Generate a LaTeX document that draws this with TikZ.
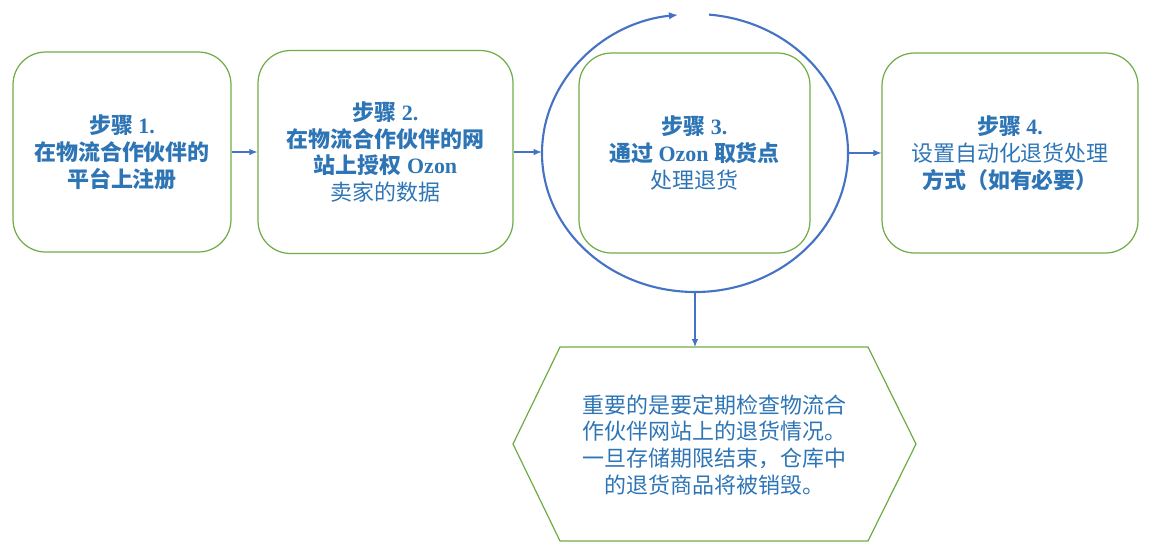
\documentclass[tikz,border=0pt]{standalone}
\usepackage{fontspec}
\setmainfont{Liberation Serif}
\newfontfamily\cjk{Noto Sans CJK SC}
\usetikzlibrary{arrows.meta,shapes.geometric}
\definecolor{stepblue}{HTML}{2E75B6}
\definecolor{ringblue}{HTML}{4472C4}
\definecolor{boxgreen}{HTML}{70AD47}

\begin{document}
\begin{tikzpicture}[x=0.02cm, y=0.02cm,
    stepbox/.style={draw=boxgreen, line width=0.7pt, rounded corners=0.65cm,
        align=center, text=stepblue, inner sep=0pt, minimum height=4cm,
        font=\fontsize{12.5}{15.3}\selectfont\bfseries},
    link/.style={draw=ringblue, line width=0.6pt, -{Latex[length=1.6mm,width=1.3mm]}}]
    \useasboundingbox (0,0) rectangle (1155,-556);

    \node[stepbox, minimum width=4.36cm] (step1) at (122,-152)
        {{\cjk 步骤} 1.\\{\cjk 在物流合作伙伴的}\\{\cjk 平台上注册}};
    \node[stepbox, minimum width=5.1cm, minimum height=4.06cm] (step2) at (385.5,-152)
        {{\cjk 步骤} 2.\\{\cjk 在物流合作伙伴的网}\\{\cjk 站上授权} Ozon\\{\mdseries\cjk 卖家的数据}};
    \node[stepbox, minimum width=4.62cm] (step3) at (694.5,-153)
        {{\cjk 步骤} 3.\\{\cjk 通过} Ozon {\cjk 取货点}\\{\mdseries\cjk 处理退货}};
    \node[stepbox, minimum width=5.12cm] (step4) at (1010,-153)
        {{\cjk 步骤} 4.\\{\mdseries\cjk 设置自动化退货处理}\\{\cjk 方式（如有必要）}};

    % ring round step 3
    \node[ellipse, minimum width=6.12cm, minimum height=5.56cm, inner sep=0pt] (loop) at (695,-153) {};
    \draw[ringblue, line width=1.2pt, -{Latex[length=1.8mm,width=1.5mm]}]
        (loop.center) ++(84.75:153 and 139)
        arc[start angle=84.75, end angle=-263.6, x radius=153, y radius=139];

    % note
    \node[align=center, text=stepblue, font=\cjk\fontsize{12.5}{15.3}\selectfont] (note) at (714.5,-445)
        {重要的是要定期检查物流合\\作伙伴网站上的退货情况。\\一旦存储期限结束，仓库中\\的退货商品将被销毁。};
    \draw[boxgreen, line width=0.7pt] (513,-444) -- (560,-347) -- (868,-347)
        -- (916,-444) -- (868,-541) -- (560,-541) -- cycle;
    \coordinate (notetop) at (695,-347);

    \draw[link] (step1.east) -- (step2.west);
    \draw[link] (step2.east) -- (step2.east -| loop.west);
    \draw[link] (loop.east) -- (step4.west);
    \draw[link] (loop.south) -- (notetop);
\end{tikzpicture}
\end{document}
